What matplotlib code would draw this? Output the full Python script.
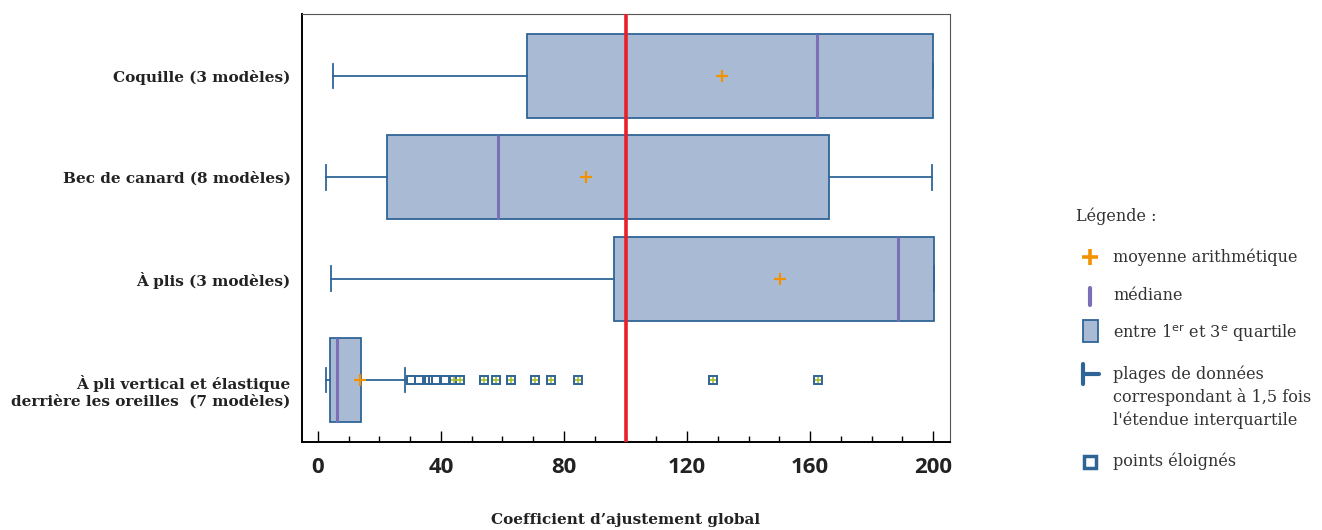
import matplotlib.pyplot as plt
from matplotlib.transforms import ScaledTranslation

categories = ['Coquille (3 modèles)',
              'Bec de canard (8 modèles)',
              'À plis (3 modèles)',
              'À pli vertical et élastique\nderrière les oreilles  (7 modèles)']
whislo = [4.9, 2.6, 4.2, 2.5]
q1 = [68.0, 22.4, 96.3, 4.0]
med = [162.3, 58.5, 188.6, 6.3]
q3 = [200.0, 166.2, 200.3, 14.0]
whishi = [200.0, 199.7, 200.3, 28.4]
means = [131.4, 87.2, 150.2, 13.7]
outliers_last = [30.2, 33.0, 36.2, 37.4, 38.5, 41.2, 44.3, 46.2, 54.0, 57.9,
                 62.9, 70.6, 75.7, 84.6, 128.5, 162.6]
outliers_marked = [44.3, 46.2, 54.0, 57.9, 62.9, 70.6, 75.7, 84.6, 128.5, 162.6]
reference = 100

box_face = '#a9bbd4'
box_edge = '#2f6496'
purple = '#7b6fb8'
orange = '#f39200'
red = '#e8202a'

stats = []
for i, c in enumerate(categories):
    stats.append({'label': c, 'whislo': whislo[i], 'q1': q1[i], 'med': med[i],
                  'q3': q3[i], 'whishi': whishi[i], 'mean': means[i],
                  'fliers': outliers_last if i == 3 else []})

fig = plt.figure(figsize=(13.22, 5.30), dpi=100)
ax = fig.add_axes([0.2284, 0.166, 0.4902, 0.8076])

ax.bxp(stats, positions=range(4), widths=0.83, orientation='horizontal',
       patch_artist=True, showmeans=True, capwidths=0.24,
       boxprops=dict(facecolor=box_face, edgecolor=box_edge, linewidth=1.3),
       whiskerprops=dict(color=box_edge, linewidth=1.3),
       capprops=dict(color=box_edge, linewidth=1.3),
       medianprops=dict(color=purple, linewidth=2.2),
       meanprops=dict(marker='+', markeredgecolor=orange, markersize=9, markeredgewidth=1.6),
       flierprops=dict(marker='s', markerfacecolor='white', markeredgecolor=box_edge,
                       markersize=6, markeredgewidth=1.4))
ax.plot(outliers_marked, [3] * len(outliers_marked), linestyle='none', marker='+',
        color='#a8c030', markersize=4.5, markeredgewidth=1.2, zorder=5)

ax.axvline(reference, color=red, linewidth=2.6, zorder=6)

ax.set_xlim(-5.2, 205.5)
ax.set_ylim(3.614, -0.614)
ax.set_xticks(range(0, 201, 40))
ax.set_xticks(range(0, 201, 10), minor=True)
ax.tick_params(axis='x', which='major', direction='in', length=8, width=1, pad=11)
ax.tick_params(axis='x', which='minor', direction='in', length=4, width=1)
ax.tick_params(axis='y', length=0, pad=8)
for lab in ax.get_xticklabels():
    lab.set_fontfamily('Open Sans')
    lab.set_fontweight('bold')
    lab.set_fontsize(16)
    lab.set_color('#222222')
ax.set_yticks(range(4))
ax.set_yticklabels(categories, fontfamily='DejaVu Serif', fontweight='bold',
                   fontsize=11, color='#222222', multialignment='right')
# two-line label sits a little lower in the original
last = ax.get_yticklabels()[3]
last.set_transform(last.get_transform() + ScaledTranslation(0, -0.09, fig.dpi_scale_trans))
for s in ['top', 'right']:
    ax.spines[s].set_color('#555555')
    ax.spines[s].set_linewidth(0.8)
for s in ['left', 'bottom']:
    ax.spines[s].set_linewidth(1.4)

fig.text(0.473, 0.019, 'Coefficient d’ajustement global', ha='center', va='center',
         fontfamily='DejaVu Serif', fontweight='bold', fontsize=11, color='#222222')

# legend drawn in a blank axes on the right
lg = fig.add_axes([0, 0, 1, 1], facecolor='none')
lg.set_xlim(0, 1322)
lg.set_ylim(530, 0)
lg.axis('off')
tx = 1113
mx = 1090
lg.text(1076, 216, 'Légende :', fontfamily='DejaVu Serif', fontsize=11.5,
        color='#333333', va='center')
lg.plot(mx, 257, marker='+', color=orange, markersize=12, markeredgewidth=2.6)
lg.plot([mx, mx], [288, 305], color=purple, linewidth=3, solid_capstyle='round')
lg.add_patch(plt.Rectangle((1083, 320), 15, 22, facecolor=box_face,
                           edgecolor=box_edge, linewidth=1.3))
lg.plot([1083, 1083], [364, 384], color=box_edge, linewidth=3, solid_capstyle='round')
lg.plot([1083, 1099], [374, 374], color=box_edge, linewidth=3, solid_capstyle='round')
lg.plot(mx, 462, marker='s', markerfacecolor='white', markeredgecolor=box_edge,
        markersize=8, markeredgewidth=2.5)
items = [(257, 'moyenne arithmétique'), (296, 'médiane'),
         (333, 'entre 1$^{\\mathrm{er}}$ et 3$^{\\mathrm{e}}$ quartile'),
         (374, 'plages de données'), (397, 'correspondant à 1,5 fois'),
         (420, "l'étendue interquartile"), (461, 'points éloignés')]
for y, t in items:
    lg.text(tx, y, t, fontfamily='DejaVu Serif', fontsize=11.5, color='#333333',
            va='center')

fig.savefig('out.png', dpi=100)
